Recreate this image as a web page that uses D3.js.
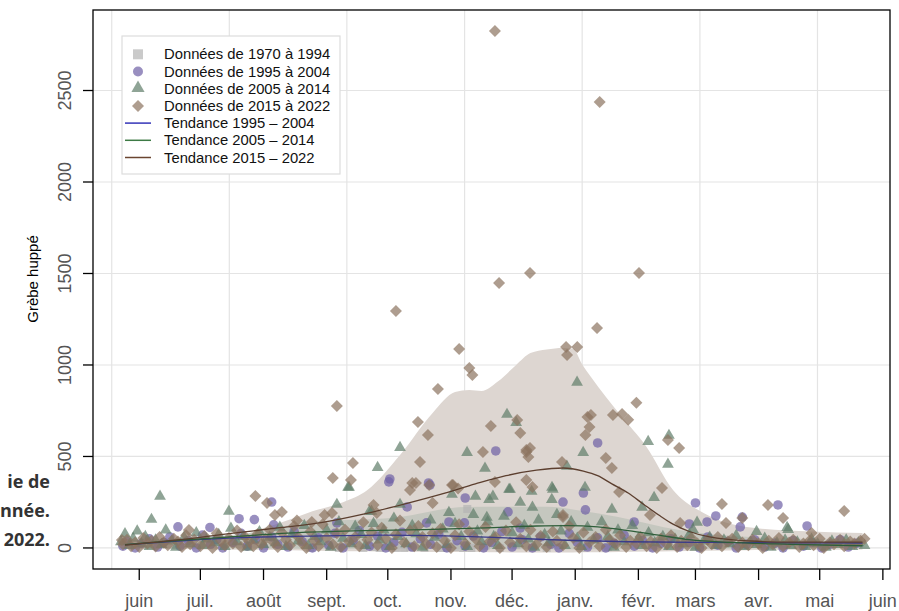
<!DOCTYPE html>
<html>
<head>
<meta charset="utf-8">
<script src="https://cdn.jsdelivr.net/npm/d3@7"></script>
<style>
  body { margin: 0; background: #fff; }
  svg { display: block; }
</style>
</head>
<body>
<svg id="chart" width="899" height="611"></svg>
<script>
    // axes
    var monthLabels = ["juin", "juil.", "août", "sept.", "oct.", "nov.", "déc.", "janv.", "févr.", "mars", "avr.", "mai", "juin"];
    var monthDays = [0, 30, 61, 92, 122, 153, 183, 214, 245, 273, 304, 334, 365];
    var yTicks = [0, 500, 1000, 1500, 2000, 2500];
    var gridDays = [-13.5, 44.2, 101.9, 159.7, 217.4, 275.2, 332.9];

    // points [jour depuis le 1er juin, effectif]
    var pts1970 = [[84,0],[98,0],[110,0],[115,5],[118,0],[122,10],[126,0],[130,0],[133,5],[140,0],[148,0],[151,0],[155,5],[159,0],[161,213],[163,0],[170,10],[177,0],[185,15],[200,0],[217,0],[230,5]];

    var pts1995 = [[-8,10],[-6,35],[-2,0],[1,25],[5,50],[9,5],[12,30],[15,60],[20,10],[24,40],[28,0],[31,70],[35,20],[38,45],[41,0],[46,30],[50,80],[53,10],[57,45],[61,0],[65,60],[68,20],[73,5],[76,90],[80,35],[85,0],[88,55],[93,15],[96,80],[100,0],[105,40],[108,95],[113,10],[117,65],[121,0],[125,30],[129,85],[134,5],[138,50],[143,20],[147,75],[151,0],[156,40],[160,10],[164,65],[169,0],[173,30],[178,90],[183,5],[188,45],[193,0],[197,60],[202,20],[206,0],[211,80],[215,30],[220,5],[225,55],[229,0],[233,25],[238,70],[243,10],[247,40],[252,0],[256,25],[261,50],[265,5],[270,30],[275,0],[279,60],[284,15],[289,35],[293,0],[298,20],[302,45],[307,5],[312,25],[316,0],[321,40],[326,10],[330,30],[335,0],[339,20],[344,45],[348,5],[352,25],
        [65,251],[19,115],[49,160],[34.7,112],[56.5,155],[66,126],[97,137],[131.5,224],[142,355],[122.5,361],[160,273],[141,137],[152,142],[123,377],[142.7,344],[175,530],[181,197],[208,251],[218,300],[219,208],[225,574],[159.6,137],[187,109],[273,246],[283,175],[296,169],[313.5,235],[327.8,120],[278.7,142],[242.9,142],[270,131],[295,115]];

    var pts2005 = [[-9,30],[-7,75],[-5,10],[-3,50],[-1,90],[1,20],[3,60],[5,5],[8,40],[11,15],[13,95],[16,35],[18,0],[22,55],[25,20],[28,80],[31,10],[33,45],[37,25],[39,70],[42,5],[45,105],[48,30],[51,60],[53,0],[56,40],[59,85],[61,15],[64,55],[67,25],[69,110],[72,5],[75,70],[78,35],[81,120],[83,10],[86,60],[89,30],[92,95],[94,0],[98,140],[100,50],[104,20],[106,115],[109,70],[111,10],[115,130],[118,40],[120,95],[123,5],[125,160],[127,60],[131,20],[134,120],[136,75],[139,0],[143,150],[145,55],[149,100],[151,15],[155,130],[158,60],[161,5],[164,180],[166,90],[168,30],[171,140],[174,60],[176,10],[179,170],[183,80],[186,20],[189,120],[191,45],[194,0],[196,150],[199,70],[201,25],[205,180],[207,90],[209,10],[212,140],[215,50],[217,5],[220,110],[223,40],[227,140],[230,60],[233,0],[235,95],[238,30],[242,120],[245,50],[247,10],[250,80],[253,25],[257,60],[260,5],[263,45],[267,20],[270,70],[273,0],[277,35],[280,55],[283,10],[287,40],[290,20],[293,65],[297,5],[300,30],[303,15],[307,50],[310,0],[313,25],[317,40],[320,10],[323,30],[327,5],[330,45],[333,20],[337,0],[340,35],[343,15],[347,40],[350,5],[353,25],[356,10],
        [10.2,279],[6,153],[44,197],[97,235],[103,328],[165,279],[153.5,290],[113,197],[152,191],[171.7,262],[128,546],[117,437],[160.9,519],[180.5,727],[185,683],[169.7,432],[214.9,902],[217.9,519],[209.9,443],[102.5,328],[181.5,317],[202.6,328],[193,219],[173.6,279],[187,246],[170.6,164],[128,235],[114,197],[249.8,579],[260,612],[259.5,454],[252.7,273],[246.8,219],[232,208],[273.8,137],[318.5,98],[303,87],[203,317],[218.8,328],[182,317],[192.6,306],[202.5,262],[271.8,98],[318,109]];

    var pts2015 = [[-8,20],[-6,45],[-4,10],[-2,30],[0,5],[2,55],[4,25],[6,40],[8,8],[10,60],[12,30],[14,15],[17,50],[19,35],[21,5],[23,70],[25,20],[27,45],[30,10],[32,65],[34,30],[36,0],[38,80],[40,40],[42,15],[44,55],[46,25],[48,95],[50,5],[52,60],[54,35],[56,10],[58,75],[60,20],[62,50],[64,100],[66,30],[68,5],[70,85],[72,45],[74,15],[76,120],[78,60],[80,25],[82,0],[84,90],[86,40],[88,10],[90,130],[92,55],[95,20],[97,80],[99,5],[101,100],[103,35],[106,60],[108,10],[110,140],[112,45],[114,85],[117,15],[119,110],[121,50],[124,0],[126,75],[128,150],[130,30],[133,95],[135,10],[137,120],[139,60],[141,20],[144,80],[146,5],[148,105],[150,40],[153,0],[155,70],[157,130],[160,25],[162,90],[165,50],[167,10],[170,115],[172,35],[175,60],[177,0],[180,95],[182,30],[185,140],[187,50],[190,10],[192,100],[195,20],[197,65],[200,5],[203,90],[205,40],[208,15],[211,120],[213,55],[216,0],[218,85],[221,30],[224,60],[226,10],[229,100],[231,45],[234,20],[236,70],[239,5],[241,40],[244,25],[246,60],[249,10],[251,35],[254,0],[256,50],[259,20],[261,70],[264,5],[266,40],[269,15],[271,55],[274,25],[276,0],[279,45],[281,20],[284,60],[286,10],[289,35],[291,50],[294,5],[296,30],[299,15],[301,45],[304,25],[306,0],[309,40],[311,20],[314,55],[316,10],[319,30],[321,45],[324,5],[326,25],[329,40],[331,15],[334,50],[336,0],[339,30],[341,20],[344,45],[346,10],[349,35],[351,25],[354,40],[356,50],
        [174.6,2825],[226,2437],[191.8,1503],[176.6,1448],[245.3,1503],[126,1295],[224.7,1202],[157,1087],[209.5,1098],[215,1098],[210,1055],[162,983],[163.5,945],[97,776],[146.6,869],[136.8,689],[141.7,617],[104.9,464],[137.8,470],[95,382],[103.9,372],[135.8,355],[132.9,317],[142.3,344],[154,344],[156.5,325],[144,246],[168.7,525],[191.8,546],[191,497],[190,525],[207.5,470],[174.6,361],[190,372],[193,333],[220,716],[221,661],[219,617],[208,169],[115,235],[116.6,191],[244,794],[221.7,727],[232.5,727],[237,732],[240,700],[259.5,590],[265,546],[256.6,328],[235.5,306],[250.7,180],[286,240],[308.6,235],[316,164],[346,202],[288,137],[296,164],[265.5,137],[208,180],[330,82],[57,284],[62.7,246],[66.6,180],[70,197],[77.4,150],[84.7,142],[91,180],[94.6,191],[134,355],[153.5,344],[172.6,667],[185.5,699],[187,628],[190,536],[232,437],[229,492],[24.4,98],[-8.5,44]];

    // tendances [jour, effectif]
    var trend1995 = [[-7,18],[10,30],[30,45],[60,60],[90,66],[120,70],[150,66],[180,55],[210,42],[240,34],[280,30],[320,28],[355,27]];
    var trend2005 = [[-7,18],[20,42],[44,60],[80,85],[110,95],[140,100],[170,110],[195,120],[210,122],[225,115],[240,95],[255,70],[270,45],[290,30],[320,20],[355,12]];
    var trend2015 = [[-7,15],[20,45],[44,78],[70,112],[90,140],[110,185],[130,240],[150,300],[165,350],[180,395],[195,425],[208,437],[218,420],[225,395],[232,350],[240,300],[248,235],[255,180],[262,130],[270,90],[280,60],[300,38],[320,32],[355,32]];

    // intervalles [jour, bas, haut]
    var band2005 = [[-7,0,40],[30,-2,60],[60,-3,90],[79,-4,137],[128,-5,169],[160,-6,224],[200,-8,225],[216,-8,205],[235,-6,169],[265,-5,98],[300,-3,60],[355,0,44]];
    var band2015 = [[-7,-5,25],[20,-6,35],[47,-10,60],[60,-10,105],[75,-12,160],[85,-14,200],[100,-18,250],[112,-18,317],[128,-20,508],[144,-22,738],[155,-22,852],[162,-22,863],[168,-22,858],[176,-24,910],[185,-25,1000],[192,-25,1065],[200,-25,1085],[208,-25,1093],[213,-25,1090],[217,-24,1011],[222,-24,930],[236,-22,729],[249,-20,552],[262,-18,317],[277,-15,191],[298,-12,115],[330,-10,90],[355,-8,82]];

    var legendLabels = ["Données de 1970 à 1994", "Données de 1995 à 2004", "Données de 2005 à 2014", "Données de 2015 à 2022",
        "Tendance 1995 – 2004", "Tendance 2005 – 2014", "Tendance 2015 – 2022"];

    var font = "'Liberation Sans', Arial, Helvetica, sans-serif";
    var col = {
        sq: "rgba(180,180,180,0.7)",
        ci: "rgba(110,95,165,0.7)",
        tr: "rgba(95,125,105,0.7)",
        di: "rgba(139,115,95,0.7)",
        lBlue: "#3434b8",
        lGreen: "#3d7a45",
        lBrown: "#6a4530"
    };

    var svg = d3.select("#chart");
    var L = 93, R = 890, T = 10, B = 569;

    var x = d3.scaleLinear().domain([-22.7, 368.5]).range([L, R]);
    var y = d3.scaleLinear().domain([-115, 2940]).range([B, T]);

    // grid
    svg.append("g").selectAll("line").data(gridDays).enter().append("line")
        .attr("x1", function (d) { return x(d); }).attr("x2", function (d) { return x(d); })
        .attr("y1", T).attr("y2", B)
        .attr("stroke", "#e4e4e4").attr("stroke-width", 1.2);
    svg.append("g").selectAll("line").data(yTicks).enter().append("line")
        .attr("x1", L).attr("x2", R)
        .attr("y1", function (d) { return y(d); }).attr("y2", function (d) { return y(d); })
        .attr("stroke", "#e4e4e4").attr("stroke-width", 1.2);

    // bands
    var area = d3.area().curve(d3.curveMonotoneX)
        .x(function (d) { return x(d[0]); })
        .y0(function (d) { return y(d[1]); })
        .y1(function (d) { return y(d[2]); });
    svg.append("path").datum(band2015).attr("d", area).attr("fill", "#ddd6d1");
    svg.append("path").datum(band2005).attr("d", area).attr("fill", "#8fa595").attr("fill-opacity", 0.3);

    // points
    var g = svg.append("g");
    g.selectAll(".sq").data(pts1970).enter().append("rect")
        .attr("x", function (d) { return x(d[0]) - 4; })
        .attr("y", function (d) { return y(d[1]) - 4; })
        .attr("width", 8).attr("height", 8).attr("fill", col.sq);
    g.selectAll(".ci").data(pts1995).enter().append("circle")
        .attr("cx", function (d) { return x(d[0]); })
        .attr("cy", function (d) { return y(d[1]); })
        .attr("r", 4.8).attr("fill", col.ci);
    var tri = d3.symbol().type(d3.symbolTriangle).size(60);
    g.selectAll(".tr").data(pts2005).enter().append("path")
        .attr("d", tri)
        .attr("transform", function (d) { return "translate(" + x(d[0]) + "," + (y(d[1]) - 0.5) + ")"; })
        .attr("fill", col.tr);
    var dia = "M0,-6L6,0L0,6L-6,0Z";
    g.selectAll(".di").data(pts2015).enter().append("path")
        .attr("d", dia)
        .attr("transform", function (d) { return "translate(" + x(d[0]) + "," + y(d[1]) + ")"; })
        .attr("fill", col.di);

    // trend lines
    var line = d3.line().curve(d3.curveMonotoneX)
        .x(function (d) { return x(d[0]); })
        .y(function (d) { return y(d[1]); });
    svg.append("path").datum(trend1995).attr("d", line).attr("fill", "none").attr("stroke", "#3a3a8a").attr("stroke-width", 1.3);
    svg.append("path").datum(trend2005).attr("d", line).attr("fill", "none").attr("stroke", "#2f5e3a").attr("stroke-width", 1.3);
    svg.append("path").datum(trend2015).attr("d", line).attr("fill", "none").attr("stroke", "#5c3f2f").attr("stroke-width", 1.3);

    // frame
    svg.append("rect").attr("x", L).attr("y", T).attr("width", R - L).attr("height", B - T)
        .attr("fill", "none").attr("stroke", "#000").attr("stroke-width", 1.3);

    // y axis
    var ya = svg.append("g");
    ya.selectAll("line").data(yTicks).enter().append("line")
        .attr("x1", L - 10).attr("x2", L)
        .attr("y1", function (d) { return y(d); }).attr("y2", function (d) { return y(d); })
        .attr("stroke", "#000").attr("stroke-width", 1.3);
    ya.selectAll("text").data(yTicks).enter().append("text")
        .attr("transform", function (d) { return "translate(71," + y(d) + ") rotate(-90)"; })
        .attr("text-anchor", "middle")
        .attr("font-family", font).attr("font-size", "18px").attr("fill", "#555")
        .text(function (d) { return d; });

    // x axis
    var xa = svg.append("g");
    xa.selectAll("line").data(monthDays).enter().append("line")
        .attr("x1", function (d) { return x(d); }).attr("x2", function (d) { return x(d); })
        .attr("y1", B).attr("y2", B + 11)
        .attr("stroke", "#000").attr("stroke-width", 1.3);
    xa.selectAll("text").data(monthDays).enter().append("text")
        .attr("x", function (d) { return x(d); }).attr("y", 607)
        .attr("text-anchor", "middle")
        .attr("font-family", font).attr("font-size", "18px").attr("fill", "#555")
        .text(function (d, i) { return monthLabels[i]; });

    svg.append("text")
        .attr("transform", "translate(38,279) rotate(-90)")
        .attr("text-anchor", "middle")
        .attr("font-family", font).attr("font-size", "15px").attr("fill", "#000")
        .text("Grèbe huppé");

    // legend
    var lg = svg.append("g");
    lg.append("rect").attr("x", 122).attr("y", 36).attr("width", 218).attr("height", 138)
        .attr("fill", "#fff").attr("stroke", "#ddd").attr("stroke-width", 1.2);
    var rowY = function (i) { return 54.3 + i * 17.2; };
    lg.append("rect").attr("x", 133).attr("y", rowY(0) - 5).attr("width", 10).attr("height", 10).attr("fill", col.sq);
    lg.append("circle").attr("cx", 138).attr("cy", rowY(1)).attr("r", 5).attr("fill", col.ci);
    lg.append("path").attr("d", d3.symbol().type(d3.symbolTriangle).size(75))
        .attr("transform", "translate(138," + (rowY(2) - 0.5) + ")").attr("fill", col.tr);
    lg.append("path").attr("d", dia).attr("transform", "translate(138," + rowY(3) + ")").attr("fill", col.di);
    [col.lBlue, col.lGreen, col.lBrown].forEach(function (c, i) {
        lg.append("line").attr("x1", 125).attr("x2", 151)
            .attr("y1", rowY(4 + i)).attr("y2", rowY(4 + i))
            .attr("stroke", c).attr("stroke-width", 1.5);
    });
    lg.selectAll("text").data(legendLabels).enter().append("text")
        .attr("x", 164).attr("y", function (d, i) { return rowY(i) + 5; })
        .attr("font-family", font).attr("font-size", "14.8px").attr("fill", "#111")
        .text(function (d) { return d; });

    // texte de la page coupé à gauche
    var side = ["ie de", "nnée.", "2022."];
    svg.append("g").selectAll("text").data(side).enter().append("text")
        .attr("x", 50).attr("y", function (d, i) { return 488 + i * 29; })
        .attr("text-anchor", "end")
        .attr("font-family", "'Open Sans', sans-serif").attr("font-weight", "bold")
        .attr("font-size", "18px").attr("fill", "#333")
        .text(function (d) { return d; });
</script>
</body>
</html>
